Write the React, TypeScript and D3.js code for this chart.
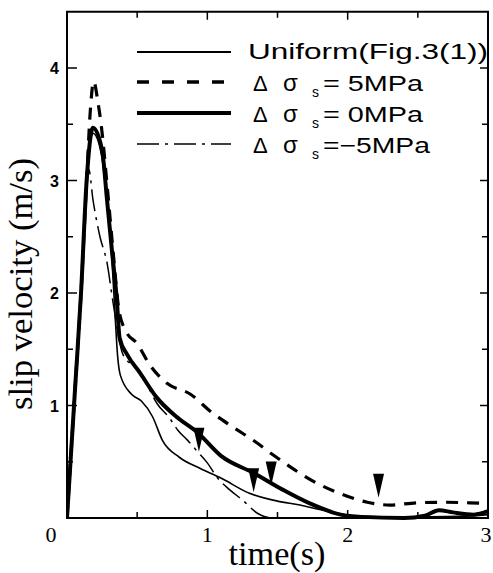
import React from "react";
import * as d3 from "d3";

const uniformT = [0, 0.03, 0.06, 0.1, 0.14, 0.185, 0.25, 0.285, 0.32, 0.345, 0.36, 0.38, 0.46, 0.53, 0.61, 0.68, 0.8, 0.95, 1.09, 1.3, 1.5, 1.66, 1.8, 1.94, 2.05, 2.4, 2.8, 3.0];
const uniformV = [0, 0.6, 1.2, 2.0, 2.95, 3.42, 3.2, 2.8, 2.3, 1.75, 1.45, 1.27, 1.1, 1.04, 0.9, 0.69, 0.54, 0.44, 0.36, 0.22, 0.15, 0.115, 0.075, 0.04, 0.015, 0.01, 0.015, 0.03];

const plus5T = [0, 0.03, 0.06, 0.1, 0.14, 0.165, 0.19, 0.22, 0.245, 0.29, 0.33, 0.37, 0.42, 0.5, 0.59, 0.71, 0.88, 1.03, 1.18, 1.34, 1.47, 1.62, 1.78, 1.96, 2.14, 2.3, 2.49, 2.68, 2.87, 3.0];
const plus5V = [0, 0.6, 1.2, 2.0, 3.0, 3.6, 3.88, 3.7, 3.48, 2.9, 2.35, 1.85, 1.66, 1.55, 1.36, 1.2, 1.1, 0.94, 0.81, 0.68, 0.56, 0.43, 0.31, 0.21, 0.14, 0.115, 0.135, 0.14, 0.135, 0.13];

const zeroT = [0, 0.03, 0.06, 0.1, 0.14, 0.185, 0.25, 0.285, 0.32, 0.355, 0.375, 0.43, 0.52, 0.64, 0.78, 0.93, 1.1, 1.33, 1.54, 1.73, 1.95, 2.1, 2.4, 2.55, 2.65, 2.75, 2.9, 3.0];
const zeroV = [0, 0.6, 1.2, 2.0, 3.0, 3.47, 3.27, 2.83, 2.38, 1.94, 1.6, 1.45, 1.29, 1.07, 0.9, 0.76, 0.55, 0.4, 0.25, 0.13, 0.03, 0.01, 0.0, 0.02, 0.07, 0.05, 0.03, 0.06];

const minus5T = [0, 0.03, 0.06, 0.1, 0.155, 0.185, 0.235, 0.285, 0.33, 0.4, 0.52, 0.58, 0.64, 0.73, 0.79, 0.86, 0.93, 1.0, 1.07, 1.16, 1.25, 1.36, 1.46, 2.0, 2.5, 3.0];
const minus5V = [0, 0.6, 1.2, 2.0, 3.1, 2.83, 2.5, 2.27, 1.9, 1.45, 1.3, 1.16, 1.02, 0.89, 0.78, 0.69, 0.59, 0.49, 0.36, 0.25, 0.16, 0.04, 0, 0, 0, 0];

const markerT = [0.94, 1.33, 1.455, 2.22];
const markerV = [0.59, 0.23, 0.29, 0.18];

const xTicks = [0, 1, 2, 3];
const xMinorTicks = [0.5, 1.5, 2.5];
const yTicks = [1, 2, 3, 4];
const yMinorTicks = [0.5, 1.5, 2.5, 3.5];

const legendNames = ["Uniform(Fig.3(1))", "= 5MPa", "= 0MPa", "=\u22125MPa"];

export default function App() {
  const W = 493, H = 573;
  const x = d3.scaleLinear().domain([0, 3]).range([67, 488]);
  const y = d3.scaleLinear().domain([0, 4.5]).range([518, 11.75]);
  const line = d3.line<[number, number]>().x(d => x(d[0])).y(d => y(d[1])).curve(d3.curveMonotoneX);
  const zip = (t: number[], v: number[]) => t.map((tt, i) => [tt, v[i]] as [number, number]);

  const series = [
    { d: zip(uniformT, uniformV), w: 1.6, dash: undefined as string | undefined },
    { d: zip(minus5T, minus5V), w: 1.5, dash: "22,6,3,6" },
    { d: zip(plus5T, plus5V), w: 3.2, dash: "12,9" },
    { d: zip(zeroT, zeroV), w: 4, dash: undefined },
  ];

  const legendStyles = [
    { w: 2.2, dash: undefined as string | undefined },
    { w: 3.5, dash: "12,13" },
    { w: 4, dash: undefined },
    { w: 1.6, dash: "22,6,3,6" },
  ];
  const legendY = [52, 82, 113, 144];

  const tickLen = 8;
  const minorLen = 6;
  const x0 = x(0), x3 = x(3), y0 = y(0), yTop = y(4.5);

  return (
    <svg width={W} height={H} style={{ position: "absolute", left: 0, top: 0, background: "#fff" }}>
      <rect x={0} y={0} width={W} height={H} fill="#fff" />
      <rect x={x0} y={yTop} width={x3 - x0} height={y0 - yTop} fill="none" stroke="#000" strokeWidth={2} />
      {xTicks.concat(xMinorTicks).map((t, i) => (
        <g key={"xt" + i}>
          <line x1={x(t)} x2={x(t)} y1={y0} y2={y0 - (xTicks.includes(t) ? tickLen : minorLen)} stroke="#000" strokeWidth={1.5} />
          <line x1={x(t)} x2={x(t)} y1={yTop} y2={yTop + (xTicks.includes(t) ? tickLen : minorLen)} stroke="#000" strokeWidth={1.5} />
        </g>
      ))}
      {yTicks.concat(yMinorTicks).map((v, i) => (
        <g key={"yt" + i}>
          <line x1={x0} x2={x0 + (yTicks.includes(v) ? tickLen + 2 : minorLen)} y1={y(v)} y2={y(v)} stroke="#000" strokeWidth={1.5} />
          <line x1={x3} x2={x3 - (yTicks.includes(v) ? tickLen : minorLen)} y1={y(v)} y2={y(v)} stroke="#000" strokeWidth={1.5} />
        </g>
      ))}
      {xTicks.map((t) => (
        <text key={"xl" + t} x={t === 0 ? x(t) - 16 : t === 3 ? x(t) - 2 : x(t)} y={542} textAnchor="middle"
          fontFamily="'Liberation Serif', 'DejaVu Serif', serif" fontSize={22}>{t}</text>
      ))}
      {yTicks.map((v) => (
        <text key={"yl" + v} x={59} y={y(v) + 6} textAnchor="end"
          fontFamily="'Liberation Sans', Arial, sans-serif" fontWeight="bold" fontSize={16}>{v}</text>
      ))}
      <text x={277} y={565} textAnchor="middle" fontFamily="'Liberation Serif', serif" fontSize={34}
        textLength={97} lengthAdjust="spacingAndGlyphs">time(s)</text>
      <text transform="translate(32,284) rotate(-90)" textAnchor="middle" fontFamily="'Liberation Serif', serif" fontSize={34}
        textLength={252} lengthAdjust="spacingAndGlyphs">slip velocity (m/s)</text>
      <defs>
        <clipPath id="clip">
          <rect x={x0} y={yTop} width={x3 - x0} height={y0 - yTop + 2} />
        </clipPath>
      </defs>
      <g clipPath="url(#clip)">
        {series.map((s, i) => (
          <path key={"s" + i} d={line(s.d) || ""} fill="none" stroke="#000" strokeWidth={s.w}
            strokeDasharray={s.dash} strokeLinejoin="round" />
        ))}
      </g>
      {markerT.map((t, i) => {
        const px = x(t), py = y(markerV[i]);
        return <path key={"m" + i} d={`M${px},${py} L${px - 5.5},${py - 24} L${px + 5.5},${py - 24} Z`} fill="#000" />;
      })}
      {legendStyles.map((s, i) => (
        <line key={"ll" + i} x1={137} x2={231} y1={legendY[i]} y2={legendY[i]} stroke="#000" strokeWidth={s.w} strokeDasharray={s.dash} />
      ))}
      <text x={248} y={legendY[0] + 7} fontFamily="'Liberation Sans', Arial, sans-serif" fontSize={22}
        textLength={240} lengthAdjust="spacingAndGlyphs">{legendNames[0]}</text>
      {legendNames.slice(1).map((n, k) => {
        const i = k + 1;
        const by = legendY[i] + 9;
        return (
          <g key={"lt" + i} fontFamily="'Liberation Sans', Arial, sans-serif">
            <text x={253} y={by} fontSize={22}>Δ</text>
            <text x={283} y={by} fontSize={24}>σ</text>
            <text x={312} y={by + 6} fontSize={14}>s</text>
            <text x={323} y={by} fontSize={22} textLength={i === 3 ? 107 : 100} lengthAdjust="spacingAndGlyphs">{n}</text>
          </g>
        );
      })}
    </svg>
  );
}
